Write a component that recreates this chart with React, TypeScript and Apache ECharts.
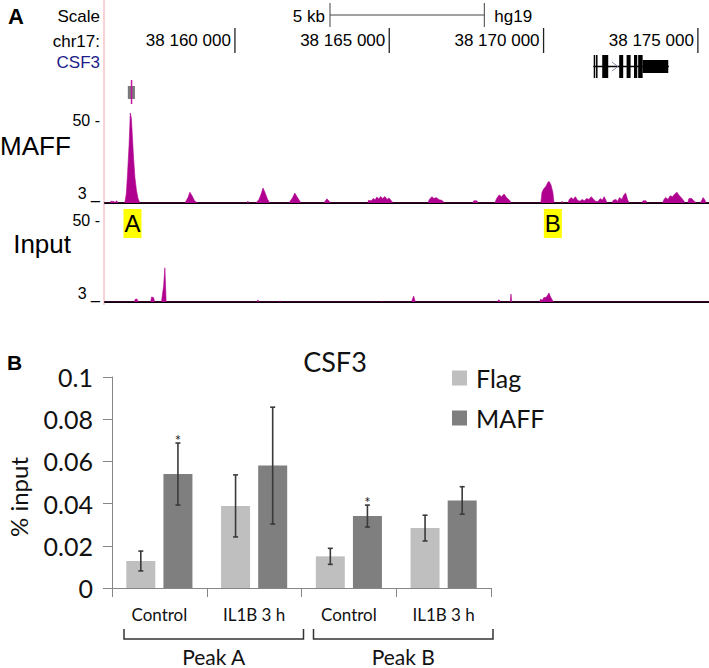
import React, { useEffect, useRef } from "react";
import * as echarts from "echarts";

// ---------- Panel A : UCSC browser view, hg19 chr17 ----------
const genomeRange = [38155790, 38175360];
const rulerTicks = [38160000, 38165000, 38170000, 38175000];
const rulerLabels = ["38 160 000", "38 165 000", "38 170 000", "38 175 000"];
const scaleBar = [38163080, 38168080];
const scaleBarLabel = "5 kb";
const assemblyLabel = "hg19";
const headerLabels = ["Scale", "chr17:", "CSF3"];
const geneSpan = [38171614, 38174060];
const geneCds: number[][] = [
  [38171625, 38171665],
  [38171700, 38171740],
  [38171900, 38172095],
  [38172450, 38172580],
  [38172690, 38172820],
  [38172930, 38173035],
  [38173065, 38173210],
];
const geneUtr: number[][] = [[38173210, 38174040]];
const geneArrow = 38172312;
const peakCallBox = [38156530, 38156760];
const peakCallMark = 38156650;
const trackNames = ["MAFF", "Input"];
const trackScaleLabels = ["50 -", "3 _"];
const peakLabels = ["A", "B"];
const peakLabelPos = [38156680, 38170300];

const maffSignal: number[][] = [
  [38155790, 0], [38155950, 0], [38155980, 1], [38156080, 0.8], [38156110, 0.3], [38156170, 1.2], [38156210, 0],
  [38156430, 0], [38156480, 5], [38156520, 16], [38156570, 32], [38156610, 50], [38156645, 47], [38156680, 36],
  [38156715, 25], [38156760, 14], [38156810, 7], [38156860, 2.5], [38156920, 0],
  [38158380, 0], [38158480, 3], [38158540, 6], [38158610, 4], [38158700, 1], [38158800, 0],
  [38160390, 0], [38160420, 1], [38160450, 0],
  [38160680, 0], [38160780, 2], [38160850, 5], [38160910, 8.3], [38160970, 6], [38161060, 2], [38161130, 0],
  [38161750, 0], [38161870, 3], [38161940, 5.5], [38162010, 3.5], [38162140, 0],
  [38162880, 0], [38162980, 2.3], [38163110, 0],
  [38164300, 0], [38164330, 1.5], [38164420, 1.2], [38164480, 2.5], [38164540, 1.8], [38164600, 3.3], [38164660, 2.2],
  [38164720, 3.6], [38164790, 2.5], [38164860, 3.6], [38164930, 2.0], [38164990, 2.8], [38165080, 1], [38165120, 0],
  [38166250, 0], [38166300, 2], [38166380, 3.5], [38166450, 2.5], [38166520, 3], [38166620, 1.8], [38166700, 1.5], [38166800, 0],
  [38167700, 0], [38167740, 1.2], [38167840, 1.2], [38167880, 0],
  [38168420, 0], [38168480, 2.5], [38168560, 4.5], [38168640, 3.5], [38168720, 5], [38168800, 3], [38168900, 1.5], [38168950, 0],
  [38169910, 0], [38169950, 6], [38170010, 8], [38170070, 9], [38170140, 11.5], [38170180, 12], [38170240, 10], [38170300, 6], [38170340, 0],
  [38170570, 0], [38170600, 1], [38170630, 0],
  [38170790, 0], [38170830, 2], [38170900, 3], [38170960, 2], [38171030, 3.5], [38171100, 1.5], [38171180, 1], [38171250, 2],
  [38171320, 1.2], [38171400, 2.5], [38171470, 2], [38171540, 3.5], [38171600, 2.5], [38171680, 1], [38171760, 0.8],
  [38171840, 2.5], [38171900, 1.5], [38171960, 3.5], [38172010, 2], [38172060, 0],
  [38172210, 0], [38172260, 1.5], [38172340, 2], [38172400, 1], [38172460, 3], [38172540, 2], [38172600, 4.5], [38172660, 5.5], [38172720, 2], [38172770, 0],
  [38173190, 0], [38173220, 1.2], [38173320, 1.2], [38173350, 0],
  [38173860, 0], [38173900, 2], [38173960, 3], [38174030, 2], [38174100, 4], [38174180, 3.5], [38174250, 5], [38174320, 6],
  [38174400, 4], [38174460, 3], [38174530, 1.5], [38174590, 0],
  [38174670, 0], [38174710, 2.5], [38174800, 2.5], [38174880, 1], [38174960, 0],
  [38175060, 0], [38175110, 1], [38175170, 3], [38175230, 1.5], [38175260, 0], [38175360, 0],
];

const inputSignal: number[][] = [
  [38155790, 0],
  [38156740, 0], [38156770, 1.5], [38156820, 1.7], [38156860, 0.5], [38156880, 0],
  [38157270, 0], [38157300, 2.8], [38157360, 2.5], [38157400, 0],
  [38157620, 0], [38157650, 4], [38157690, 9], [38157730, 19], [38157750, 10], [38157770, 0],
  [38160720, 0], [38160745, 1.2], [38160770, 0],
  [38161440, 0], [38161460, 0.7], [38161480, 0],
  [38164740, 0], [38164760, 0.6], [38164780, 0],
  [38165720, 0], [38165760, 2], [38165790, 3.3], [38165830, 1], [38165850, 0],
  [38168510, 0], [38168540, 1.2], [38168580, 0.8], [38168600, 0],
  [38168920, 0], [38168945, 4.4], [38168965, 0],
  [38169870, 0], [38169900, 1.5], [38169960, 1], [38170010, 2.5], [38170080, 2.5], [38170140, 4], [38170175, 5],
  [38170220, 3], [38170300, 0.5], [38170320, 0],
  [38175360, 0],
];

// ---------- Panel B : ChIP-qPCR ----------
const chartTitle = "CSF3";
const categories = ["Control", "IL1B 3 h", "Control", "IL1B 3 h"];
const groupNames = ["Peak A", "Peak B"];
const groupSpans = [[0, 1], [2, 3]];
const seriesNames = ["Flag", "MAFF"];
const flagValues = [0.0128, 0.0389, 0.015, 0.0284];
const flagErrors = [0.0047, 0.0147, 0.0038, 0.0061];
const maffValues = [0.054, 0.058, 0.0341, 0.0415];
const maffErrors = [0.0147, 0.0277, 0.0052, 0.0065];
const maffSignificant = [true, false, true, false];
const yAxisTitle = "% input";
const panelLetters = ["A", "B"];

const AFONT = '"Liberation Sans", Arial, sans-serif';
const BFONT = 'Lato, "Liberation Sans", sans-serif';
const MAGENTA = "#b0008f";
const BAR_W = 29;
const BAR_GAP = 0.28;

function renderRuler(params: any, api: any) {
  const x = api.coord([api.value(0), 0])[0];
  return {
    type: "group",
    children: [
      { type: "line", shape: { x1: x, y1: 28, x2: x, y2: 53 }, style: { stroke: "#222", lineWidth: 1.3 } },
      {
        type: "text",
        style: { text: rulerLabels[params.dataIndex], x: x - 4, y: 40, align: "right", verticalAlign: "middle", fontSize: 17, fontFamily: AFONT, fill: "#000" },
      },
    ],
  };
}

function renderHeader(_params: any, api: any) {
  const X = (g: number) => api.coord([g, 0])[0];
  const children: any[] = [];
  const s0 = X(scaleBar[0]);
  const s1 = X(scaleBar[1]);
  const sc = { stroke: "#444", lineWidth: 1 };
  children.push({ type: "line", shape: { x1: s0, y1: 15, x2: s1, y2: 15 }, style: sc });
  children.push({ type: "line", shape: { x1: s0, y1: 3, x2: s0, y2: 27 }, style: sc });
  children.push({ type: "line", shape: { x1: s1, y1: 3, x2: s1, y2: 27 }, style: sc });
  children.push({ type: "text", style: { text: scaleBarLabel, x: s0 - 5, y: 16, align: "right", verticalAlign: "middle", fontSize: 17, fontFamily: AFONT, fill: "#000" } });
  children.push({ type: "text", style: { text: assemblyLabel, x: s1 + 10, y: 16, align: "left", verticalAlign: "middle", fontSize: 17, fontFamily: AFONT, fill: "#000" } });
  // gene model
  const g0 = X(geneSpan[0]);
  const g1 = X(geneSpan[1]);
  children.push({ type: "line", shape: { x1: g0, y1: 66.5, x2: g1, y2: 66.5 }, style: { stroke: "#000", lineWidth: 1.5 } });
  const ax = X(geneArrow);
  children.push({ type: "polyline", shape: { points: [[ax - 3, 62], [ax + 3, 66.5], [ax - 3, 71]] }, style: { stroke: "#8a8aa8", lineWidth: 1, fill: "none" } });
  geneCds.forEach(([a, b]) => {
    children.push({ type: "rect", shape: { x: X(a), y: 55, width: Math.max(1.5, X(b) - X(a)), height: 23 }, style: { fill: "#000" } });
  });
  geneUtr.forEach(([a, b]) => {
    children.push({ type: "rect", shape: { x: X(a), y: 60, width: X(b) - X(a), height: 13 }, style: { fill: "#000" } });
  });
  // peak call marker
  const p0 = X(peakCallBox[0]);
  const p1 = X(peakCallBox[1]);
  children.push({ type: "rect", shape: { x: p0, y: 86, width: p1 - p0, height: 13 }, style: { fill: "#7a7a7a" } });
  const pm = X(peakCallMark);
  children.push({ type: "line", shape: { x1: pm, y1: 80, x2: pm, y2: 104 }, style: { stroke: "#c2189c", lineWidth: 1.5 } });
  return { type: "group", children };
}

function renderPeakLabel(params: any, api: any) {
  const x = api.coord([api.value(0), 0])[0];
  return {
    type: "text",
    style: {
      text: peakLabels[params.dataIndex],
      x,
      y: 223.5,
      align: "center",
      verticalAlign: "middle",
      fontSize: 24,
      fontFamily: AFONT,
      fill: "#000",
      backgroundColor: "#ffff00",
      padding: [3, 1, 2, 1],
    },
  };
}

function renderErrorBar(_params: any, api: any) {
  const j = api.value(0);
  const lo = api.value(1);
  const hi = api.value(2);
  const s = api.value(3);
  const sig = api.value(4);
  const top = api.coord([j, hi]);
  const yLo = api.coord([j, lo])[1];
  const off = (BAR_W * (1 + BAR_GAP)) / 2;
  const x = top[0] + (s === 0 ? -off : off);
  const st = { stroke: "#3a3a3a", lineWidth: 1.6 };
  const children: any[] = [
    { type: "line", shape: { x1: x, y1: top[1], x2: x, y2: yLo }, style: st },
    { type: "line", shape: { x1: x - 2.5, y1: top[1], x2: x + 2.5, y2: top[1] }, style: st },
    { type: "line", shape: { x1: x - 2.5, y1: yLo, x2: x + 2.5, y2: yLo }, style: st },
  ];
  if (sig) {
    children.push({ type: "text", style: { text: "*", x, y: top[1] - 3.5, align: "center", verticalAlign: "middle", fontSize: 15, fontFamily: BFONT, fill: "#222" } });
  }
  return { type: "group", children };
}

function renderBracket(_params: any, api: any) {
  const s = api.value(0);
  const e = api.value(1);
  const gi = api.value(2);
  const w = api.size([1, 0])[0];
  const ps = api.coord([s, 0]);
  const xe = api.coord([e, 0])[0];
  const left = ps[0] - w / 2 + 12;
  const right = xe + w / 2 + 2;
  const y0 = ps[1];
  return {
    type: "group",
    children: [
      {
        type: "polyline",
        shape: { points: [[left, y0 + 41], [left, y0 + 51], [right, y0 + 51], [right, y0 + 41]] },
        style: { stroke: "#333", lineWidth: 1.5, fill: "none" },
      },
      {
        type: "text",
        style: { text: groupNames[gi], x: (left + right) / 2, y: y0 + 68, align: "center", verticalAlign: "middle", fontSize: 21, fontFamily: BFONT, fill: "#111" },
      },
    ],
  };
}

function buildOption(): any {
  const errData: number[][] = [];
  flagValues.forEach((v, j) => errData.push([j, v - flagErrors[j], v + flagErrors[j], 0, 0]));
  maffValues.forEach((v, j) => errData.push([j, v - maffErrors[j], v + maffErrors[j], 1, maffSignificant[j] ? 1 : 0]));

  const trackX = (gridIndex: number, show: boolean) => ({
    gridIndex,
    type: "value",
    min: genomeRange[0],
    max: genomeRange[1],
    show,
    axisLine: { show, onZero: false, lineStyle: { color: "#000", width: 2 } },
    axisTick: { show: false },
    axisLabel: { show: false },
    splitLine: { show: false },
  });

  const txt = (text: string, x: number, y: number, extra: any) => ({
    type: "text",
    style: { text, x, y, fill: "#000", fontFamily: AFONT, verticalAlign: "middle", ...extra },
  });

  return {
    animation: false,
    backgroundColor: "#ffffff",
    grid: [
      { left: 105, right: 0, top: 0, height: 110, outerBoundsMode: "none" },
      { left: 105, right: 0, top: 113, height: 90, outerBoundsMode: "none" },
      { left: 105, right: 0, top: 212, height: 90, outerBoundsMode: "none" },
      { left: 112, top: 377, width: 379, height: 211, outerBoundsMode: "none" },
    ],
    xAxis: [
      trackX(0, false),
      trackX(1, true),
      trackX(2, true),
      {
        gridIndex: 3,
        type: "category",
        data: categories,
        axisLine: { show: true, lineStyle: { color: "#868686", width: 1 } },
        axisTick: { show: true, length: 9, lineStyle: { color: "#868686" } },
        axisLabel: { fontFamily: BFONT, fontSize: 17, color: "#111", margin: 18 },
        splitLine: { show: false },
      },
    ],
    yAxis: [
      { gridIndex: 0, type: "value", min: 0, max: 1, show: false },
      { gridIndex: 1, type: "value", min: 0, max: 50, show: false },
      { gridIndex: 2, type: "value", min: 0, max: 50, show: false },
      {
        gridIndex: 3,
        type: "value",
        min: 0,
        max: 0.1,
        interval: 0.02,
        axisLine: { show: true, lineStyle: { color: "#868686", width: 1 } },
        axisTick: { show: true, length: 9, lineStyle: { color: "#868686" } },
        axisLabel: { fontFamily: BFONT, fontSize: 25, color: "#111", margin: 19 },
        splitLine: { show: false },
      },
    ],
    legend: {
      data: seriesNames,
      orient: "vertical",
      left: 452,
      top: 365.5,
      padding: 0,
      itemWidth: 15,
      itemHeight: 15,
      itemGap: 15,
      icon: "rect",
      selectedMode: false,
      textStyle: { fontFamily: BFONT, fontSize: 25, color: "#111", lineHeight: 25, padding: [0, 0, 0, 4] },
    },
    graphic: [
      { type: "line", shape: { x1: 104, y1: 0, x2: 104, y2: 305 }, style: { stroke: "#f4a4ae", lineWidth: 1 } },
      txt(panelLetters[0], 8, 16, { fontSize: 22, fontWeight: "bold" }),
      txt(headerLabels[0], 100, 16, { fontSize: 17, align: "right" }),
      txt(headerLabels[1], 100, 41, { fontSize: 17, align: "right" }),
      txt(headerLabels[2], 100, 62, { fontSize: 17, align: "right", fill: "#1c1c8a" }),
      txt(trackNames[0], 0, 145.5, { fontSize: 26 }),
      txt(trackNames[1], 71, 244, { fontSize: 26, align: "right" }),
      txt(trackScaleLabels[0], 100, 120, { fontSize: 16, align: "right" }),
      txt(trackScaleLabels[1], 100, 193, { fontSize: 16, align: "right" }),
      txt(trackScaleLabels[0], 100, 220, { fontSize: 16, align: "right" }),
      txt(trackScaleLabels[1], 100, 293, { fontSize: 16, align: "right" }),
      txt(panelLetters[1], 7, 362, { fontSize: 21, fontWeight: "bold" }),
      txt(chartTitle, 335, 361, { fontSize: 27, fontFamily: BFONT, align: "center", fill: "#111" }),
      { type: "text", x: 18, y: 497, rotation: Math.PI / 2, style: { text: yAxisTitle, x: 0, y: 0, align: "center", verticalAlign: "middle", fontSize: 24, fontFamily: BFONT, fill: "#111" } },
    ],
    series: [
      { type: "custom", name: "ruler", xAxisIndex: 0, yAxisIndex: 0, data: rulerTicks.map((t) => [t, 0]), renderItem: renderRuler, silent: true },
      { type: "custom", name: "header", xAxisIndex: 0, yAxisIndex: 0, data: [[genomeRange[0], 0]], renderItem: renderHeader, silent: true },
      {
        type: "line", name: "MAFF ChIP-seq", xAxisIndex: 1, yAxisIndex: 1, data: maffSignal, showSymbol: false, symbol: "none",
        lineStyle: { width: 0.6, color: MAGENTA }, areaStyle: { color: MAGENTA, opacity: 1 }, silent: true,
      },
      {
        type: "line", name: "Input ChIP-seq", xAxisIndex: 2, yAxisIndex: 2, data: inputSignal, showSymbol: false, symbol: "none",
        lineStyle: { width: 0.6, color: MAGENTA }, areaStyle: { color: MAGENTA, opacity: 1 }, silent: true,
      },
      { type: "custom", name: "peak labels", xAxisIndex: 2, yAxisIndex: 2, data: peakLabelPos.map((p, i) => [p, 0, i]), renderItem: renderPeakLabel, silent: true },
      { type: "bar", name: seriesNames[0], xAxisIndex: 3, yAxisIndex: 3, data: flagValues, barWidth: BAR_W, barGap: `${BAR_GAP * 100}%`, itemStyle: { color: "#bfbfbf" } },
      { type: "bar", name: seriesNames[1], xAxisIndex: 3, yAxisIndex: 3, data: maffValues, barWidth: BAR_W, barGap: `${BAR_GAP * 100}%`, itemStyle: { color: "#7f7f7f" } },
      { type: "custom", name: "error bars", xAxisIndex: 3, yAxisIndex: 3, data: errData, encode: { x: 0, y: [1, 2] }, renderItem: renderErrorBar, silent: true, z: 5 },
      { type: "custom", name: "groups", xAxisIndex: 3, yAxisIndex: 3, data: groupSpans.map((g, i) => [g[0], g[1], i]), encode: { x: [0, 1], y: 2 }, renderItem: renderBracket, silent: true },
    ],
  };
}

export default function App() {
  const ref = useRef<HTMLDivElement>(null);
  useEffect(() => {
    document.body.style.margin = "0";
    const chart = echarts.init(ref.current as HTMLDivElement, undefined, { renderer: "svg" });
    chart.setOption(buildOption());
    return () => chart.dispose();
  }, []);
  return <div ref={ref} style={{ width: 709, height: 668 }} />;
}
